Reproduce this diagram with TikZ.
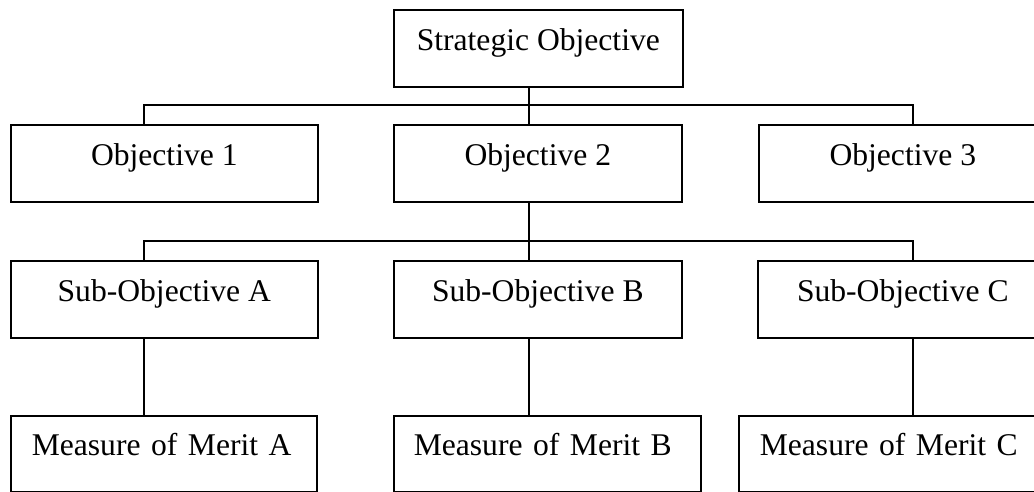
\documentclass[tikz,border=0pt]{standalone}
\usepackage{fontspec}
\setmainfont{Liberation Serif}
\begin{document}
\begin{tikzpicture}[x=1pt,y=-1pt]
\tikzset{
  box/.style={draw, line width=1.6pt, inner sep=0pt, anchor=north west,
    minimum height=77pt, text height=41pt, text depth=36pt,
    font=\fontsize{31.6}{38}\selectfont},
  mombox/.style={box, minimum height=76pt, text height=40pt, text depth=36pt, align=left},
  link/.style={line width=1.6pt}
}
\useasboundingbox (0,0) rectangle (1034,492);
\clip (0,0) rectangle (1034,492);

\node[box, minimum width=289pt] (strat) at (393,9) {Strategic Objective};

\node[box, minimum width=307pt] (obj1) at (10,124) {Objective 1};
\node[box, minimum width=288pt] (obj2) at (393,124) {Objective 2};
\node[box, minimum width=288pt] (obj3) at (758,124) {Objective 3};

\node[box, minimum width=307pt] (subA) at (10,260) {Sub-Objective A};
\node[box, minimum width=288pt] (subB) at (393,260) {Sub-Objective B};
\node[box, minimum width=290pt] (subC) at (757,260) {Sub-Objective C};

\node[mombox, minimum width=306pt, text width=264pt] (momA) at (10,415) {Measure of Merit A};
\node[mombox, minimum width=307pt, text width=267pt] (momB) at (393,415) {Measure of Merit B};
\node[mombox, minimum width=308pt, text width=266pt] (momC) at (738,415) {Measure of Merit C};

\coordinate (xL) at (144,0);
\coordinate (xM) at (529,0);
\coordinate (xR) at (913,0);
\coordinate (bar1) at (529,105);
\coordinate (bar2) at (529,241);

\draw[link] (strat.south -| xM) -- (obj2.north -| xM);
\draw[link] (obj1.north -| xL) |- (bar1) -| (obj3.north -| xR);
\draw[link] (obj2.south -| xM) -- (subB.north -| xM);
\draw[link] (subA.north -| xL) |- (bar2) -| (subC.north -| xR);
\draw[link] (subA.south -| xL) -- (momA.north -| xL);
\draw[link] (subB.south -| xM) -- (momB.north -| xM);
\draw[link] (subC.south -| xR) -- (momC.north -| xR);
\end{tikzpicture}
\end{document}
